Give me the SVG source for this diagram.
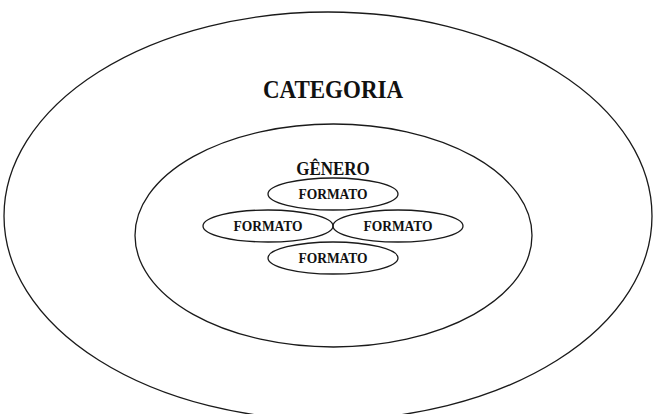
<svg xmlns="http://www.w3.org/2000/svg" width="654" height="414" viewBox="0 0 654 414">
<style>
.shape{fill:none;stroke:#1a1a1a;stroke-width:1.3}
.lbl{font-family:"Liberation Serif","Times New Roman",serif;font-weight:bold;fill:#111;text-anchor:middle}
.fmt{font-size:13.5px}
</style>
<rect width="654" height="414" fill="#fff"/>
<g id="categoria">
<ellipse class="shape" cx="328" cy="216" rx="324" ry="204"/>
<text class="lbl" transform="translate(333,98) scale(1,1.09)" style="font-size:23px">CATEGORIA</text>
</g>
<g id="genero">
<ellipse class="shape" cx="333.5" cy="235.5" rx="198.5" ry="111.5"/>
<text class="lbl" transform="translate(333,175) scale(1,1.07)" style="font-size:17px">GÊNERO</text>
</g>
<g id="formato-top">
<ellipse class="shape" cx="333" cy="194" rx="65" ry="16"/>
<text class="lbl fmt" transform="translate(333,198.5) scale(1,1.05)">FORMATO</text>
</g>
<g id="formato-left">
<ellipse class="shape" cx="268" cy="226" rx="65" ry="16"/>
<text class="lbl fmt" transform="translate(268,230.5) scale(1,1.05)">FORMATO</text>
</g>
<g id="formato-right">
<ellipse class="shape" cx="398" cy="226" rx="65" ry="16"/>
<text class="lbl fmt" transform="translate(398,230.5) scale(1,1.05)">FORMATO</text>
</g>
<g id="formato-bottom">
<ellipse class="shape" cx="333" cy="258" rx="65" ry="16"/>
<text class="lbl fmt" transform="translate(333,262.5) scale(1,1.05)">FORMATO</text>
</g>
<g id="connectors"/>
</svg>
